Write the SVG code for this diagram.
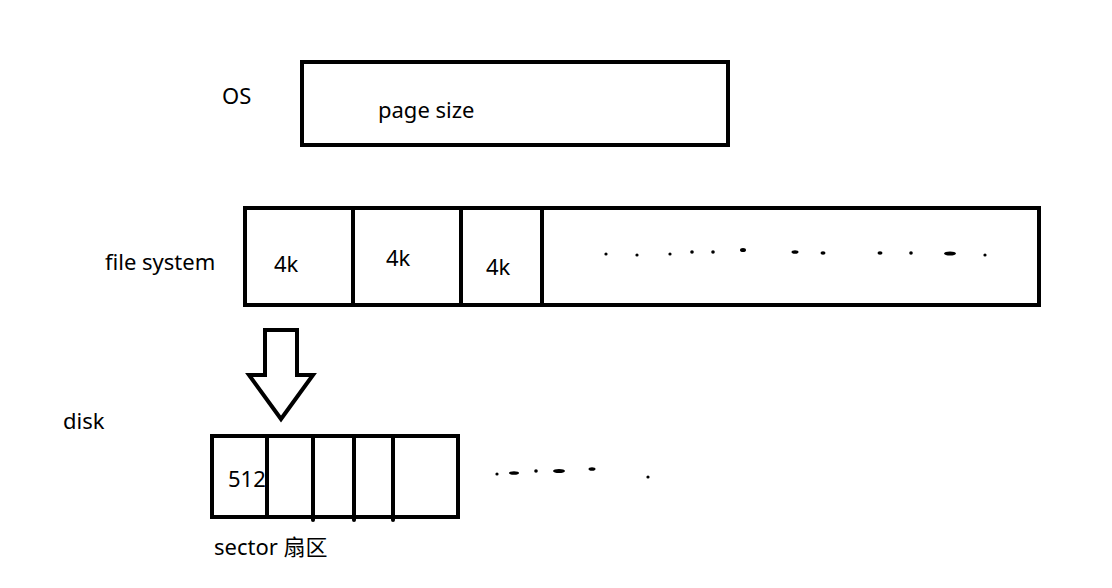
<svg xmlns="http://www.w3.org/2000/svg" width="1112" height="588" viewBox="0 0 1112 588">
<style>
.box{fill:none;stroke:#000;stroke-width:4;stroke-linejoin:miter}
.ln{stroke:#000;stroke-width:4;stroke-linecap:round}
.t{font-family:"Noto Sans","Noto Sans CJK SC",sans-serif;font-size:22px;fill:#000}
.d{fill:#000}
</style>
<rect width="1112" height="588" fill="#fff"/>
<g id="os">
<text class="t" x="222" y="104">OS</text>
<rect class="box" x="302" y="62" width="426" height="83"/>
<text class="t" x="378" y="118">page size</text>
</g>
<g id="filesystem">
<text class="t" x="105" y="270">file system</text>
<rect class="box" x="245" y="208" width="794" height="97"/>
<line class="ln" x1="353" y1="208" x2="353" y2="305"/>
<line class="ln" x1="461" y1="208" x2="461" y2="305"/>
<line class="ln" x1="542" y1="208" x2="542" y2="305"/>
<text class="t" x="274" y="272">4k</text>
<text class="t" x="386" y="266">4k</text>
<text class="t" x="486" y="275">4k</text>
<g class="d">
<circle cx="606" cy="254" r="1.6"/><circle cx="637" cy="255" r="1.6"/><circle cx="670" cy="254" r="1.6"/>
<circle cx="692" cy="252" r="1.8"/><circle cx="713" cy="252" r="1.8"/><ellipse cx="743" cy="250" rx="3" ry="2"/>
<ellipse cx="795" cy="252" rx="3.5" ry="1.8"/><ellipse cx="823" cy="253" rx="2.5" ry="1.8"/>
<ellipse cx="880" cy="253" rx="2.5" ry="1.8"/><circle cx="911" cy="253" r="1.8"/>
<ellipse cx="950" cy="253.5" rx="6" ry="2"/><circle cx="985" cy="255" r="1.6"/>
</g>
</g>
<g id="arrow">
<polygon class="box" points="265,330 297,330 297,375 313,375 281,419 249,375 265,375"/>
</g>
<g id="disk">
<text class="t" x="63" y="429">disk</text>
<rect class="box" x="212" y="436" width="246" height="81"/>
<line class="ln" x1="267" y1="436" x2="267" y2="517"/>
<line class="ln" x1="313" y1="436" x2="313" y2="520"/>
<line class="ln" x1="354" y1="436" x2="354" y2="520"/>
<line class="ln" x1="393" y1="436" x2="393" y2="520"/>
<text class="t" x="228" y="487">512</text>
<text class="t" x="214" y="555">sector 扇区</text>
<g class="d">
<circle cx="497" cy="474" r="1.6"/><ellipse cx="514" cy="473" rx="5" ry="1.8"/><circle cx="536" cy="471" r="1.8"/>
<ellipse cx="559" cy="471" rx="6" ry="2"/><ellipse cx="592" cy="469" rx="3.5" ry="1.8"/><circle cx="648" cy="477" r="1.6"/>
</g>
</g>
</svg>
